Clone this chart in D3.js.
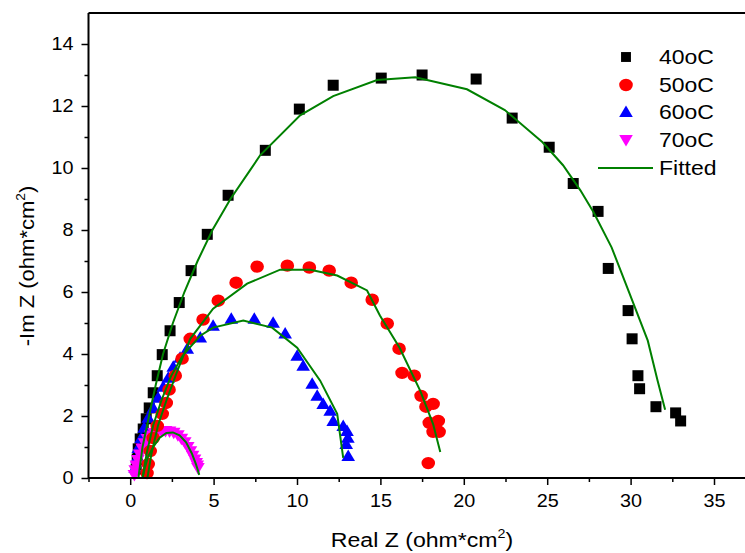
<!DOCTYPE html>
<html>
<head>
<meta charset="utf-8">
<script src="https://cdn.jsdelivr.net/npm/d3@7"></script>
<style>
  html, body { margin: 0; padding: 0; background: #fff; }
  svg { display: block; font-family: "Liberation Sans", Arial, sans-serif; }
</style>
</head>
<body>
<svg id="chart" width="745" height="553"></svg>
<script>
// Nyquist data (Real Z, -Im Z) in ohm*cm^2 at four temperatures
const x40 = [0.36,0.42,0.48,0.60,0.78,0.96,1.14,1.38,1.62,1.92,2.39,2.94,3.65,4.62,5.87,8.10,10.14,12.17,15.05,17.50,20.74,22.90,25.12,26.56,28.05,28.66,29.85,30.09,30.44,30.54,31.52,32.70,33.00];
const y40 = [0.29,0.61,0.94,1.26,1.58,1.91,2.26,2.75,3.3,3.98,4.75,5.66,6.69,7.86,9.12,10.57,11.9,12.67,12.9,13.0,12.87,11.61,10.67,9.5,8.6,6.76,5.4,4.49,3.3,2.88,2.3,2.1,1.84];

const x50 = [1.01,1.08,1.20,1.38,1.62,1.92,2.16,2.33,2.70,3.11,3.60,4.37,5.28,6.35,7.61,9.42,10.74,11.93,13.25,14.51,15.41,16.12,16.30,17.03,17.44,17.73,18.16,17.93,18.47,18.16,18.52,17.87];
const y50 = [0.16,0.45,0.87,1.29,1.68,2.07,2.42,2.85,3.30,3.85,4.49,5.11,5.72,6.30,6.82,6.85,6.79,6.69,6.30,5.75,4.98,4.17,3.39,3.30,2.65,2.30,2.39,1.78,1.84,1.49,1.49,0.48];

const x60 = [0.30,0.42,0.48,0.66,0.84,1.08,1.38,1.67,1.98,2.28,2.58,2.99,3.42,4.20,4.97,6.06,7.44,8.57,9.29,10.01,10.37,10.91,11.21,11.57,11.99,12.17,12.77,13.0,13.05,12.95,13.07];
const y60 = [0.32,0.65,0.97,1.29,1.62,1.94,2.26,2.59,2.94,3.23,3.59,3.88,4.17,4.53,4.91,5.14,5.14,5.01,4.66,3.94,3.62,3.04,2.65,2.39,2.17,1.84,1.68,1.52,1.3,1.1,0.71];

const x70 = [0.25,0.30,0.37,0.46,0.57,0.71,0.87,1.03,1.23,1.43,1.65,1.87,2.12,2.36,2.61,2.86,3.07,3.27,3.45,3.61,3.74,3.86,3.96,4.02,4.06];
const y70 = [0.1,0.25,0.4,0.58,0.76,0.95,1.12,1.26,1.37,1.45,1.5,1.52,1.52,1.5,1.46,1.38,1.27,1.15,1.0,0.86,0.72,0.6,0.48,0.4,0.32];

// Equivalent-circuit fitted curves
const fx40 = [0.49,0.74,1.13,1.53,1.97,2.56,3.25,4.04,4.93,6.01,7.19,7.79,10.19,12.17,14.80,17.09,20.19,22.46,24.72,25.95,26.99,27.78,28.86,29.94,31.03,31.62,32.07];
const fy40 = [0,1,2,3,4,5,6,7,8,9,9.93,10.41,11.7,12.32,12.84,12.93,12.54,11.87,10.83,10.09,9.28,8.57,7.44,5.95,4.43,3.14,2.2];
const fx50 = [1.03,1.28,1.67,2.17,2.86,3.60,4.97,7.01,8.99,10.80,12.41,14.20,14.97,16.15,17.39,18.16,18.59];
const fy50 = [0,0.8,1.7,2.5,3.5,4.49,5.46,6.27,6.72,6.72,6.53,6.05,5.24,4.2,2.81,1.74,0.84];
const fx60 = [0.74,0.99,1.38,1.87,2.46,3.15,4.20,4.97,6.78,8.51,10.01,11.39,12.41,12.77];
const fy60 = [0,0.8,1.7,2.5,3.3,3.95,4.59,4.85,5.08,4.85,4.2,3.14,2.07,0.65];
const fx70 = [0.74,0.89,1.08,1.38,1.77,2.17,2.56,2.96,3.35,3.69,3.94,4.14];
const fy70 = [0,0.35,0.7,1.0,1.3,1.45,1.47,1.38,1.15,0.8,0.45,0.1];

const seriesNames = ["40oC", "50oC", "60oC", "70oC"];
const fitName = "Fitted";
const xTicks = [0,5,10,15,20,25,30,35];
const yTicks = [0,2,4,6,8,10,12,14];

const svg = d3.select("#chart");
const x = d3.scaleLinear().domain([-2.5, 37.5]).range([88.5, 755.7]);
const y = d3.scaleLinear().domain([0, 15]).range([478, 13]);
const STRETCH = 1.1;   // slightly wide lettering

const zip = (xs, ys) => xs.map((v, i) => [v, ys[i]]);

const series = [
  { name: seriesNames[0], pts: zip(x40, y40), color: "#000000", shape: "square" },
  { name: seriesNames[1], pts: zip(x50, y50), color: "#ff0000", shape: "circle" },
  { name: seriesNames[2], pts: zip(x60, y60), color: "#0000ff", shape: "up" },
  { name: seriesNames[3], pts: zip(x70, y70), color: "#ff00ff", shape: "down" }
];
const fits = [zip(fx40, fy40), zip(fx50, fy50), zip(fx60, fy60), zip(fx70, fy70)];

function markerPath(shape) {
  if (shape === "square") return "M-5.5,-5.5H5.5V5.5H-5.5Z";
  if (shape === "circle") return "M-6.8,0A6.8,6.2 0 1,0 6.8,0A6.8,6.2 0 1,0 -6.8,0Z";
  if (shape === "up") return "M0,-6.5L6.8,5L-6.8,5Z";
  return "M0,6.5L6.8,-5L-6.8,-5Z";
}

// markers: black, blue, magenta, red (drawing order)
const drawOrder = [0, 2, 3, 1];
const markerLayer = svg.append("g");
drawOrder.forEach(i => {
  const s = series[i];
  markerLayer.append("g").selectAll("path").data(s.pts).join("path")
    .attr("d", markerPath(s.shape))
    .attr("transform", d => `translate(${x(d[0])},${y(d[1])})`)
    .attr("fill", s.color);
});

// fitted lines on top
const line = d3.line().x(d => x(d[0])).y(d => y(d[1]));
svg.append("g").selectAll("path").data(fits).join("path")
  .attr("d", line)
  .attr("fill", "none")
  .attr("stroke", "#008000")
  .attr("stroke-width", 2);

// axes
const xAxis = d3.axisBottom(x).tickValues(xTicks).tickSize(7).tickPadding(9).tickFormat(d3.format("d"));
const xMinor = d3.axisBottom(x).tickValues(d3.range(-2.5, 37.6, 2.5).filter(v => !xTicks.includes(v))).tickSize(4).tickFormat("");
const yAxis = d3.axisLeft(y).tickValues(yTicks).tickSize(7).tickPadding(8).tickFormat(d3.format("d"));
const yMinor = d3.axisLeft(y).tickValues(d3.range(1, 15, 2)).tickSize(4).tickFormat("");

function styleAxis(g) {
  g.select(".domain").remove();
  g.selectAll(".tick line").attr("stroke", "#000").attr("stroke-width", 1.5);
  g.selectAll("text").attr("fill", "#000").attr("font-size", 18)
    .attr("font-family", "Liberation Sans, Arial, sans-serif");
}

svg.append("g").attr("transform", "translate(0,478)").call(xMinor).call(styleAxis);
svg.append("g").attr("transform", "translate(0,478)").call(xAxis).call(styleAxis)
  .selectAll(".tick text").attr("transform", `scale(${STRETCH},1)`);
svg.append("g").attr("transform", "translate(88.5,0)").call(yMinor).call(styleAxis);
svg.append("g").attr("transform", "translate(88.5,0)").call(yAxis).call(styleAxis)
  .selectAll(".tick text").attr("x", -15 / STRETCH).attr("transform", `scale(${STRETCH},1)`);

// frame lines
svg.append("line").attr("x1", 88.5).attr("x2", 745).attr("y1", 478).attr("y2", 478).attr("stroke", "#000").attr("stroke-width", 2);
svg.append("line").attr("x1", 88.5).attr("x2", 745).attr("y1", 13).attr("y2", 13).attr("stroke", "#000").attr("stroke-width", 2);
svg.append("line").attr("x1", 88.5).attr("x2", 88.5).attr("y1", 13).attr("y2", 478).attr("stroke", "#000").attr("stroke-width", 2);

// axis titles
function title(transform, label) {
  const t = svg.append("text").attr("transform", transform).attr("text-anchor", "middle")
    .attr("font-size", 21).attr("fill", "#000");
  t.append("tspan").text(label);
  t.append("tspan").text("2").attr("font-size", 13).attr("dy", -9);
  t.append("tspan").text(")").attr("dy", 9);
}
title(`translate(422,547) scale(${STRETCH},1)`, "Real Z (ohm*cm");
title("translate(34,266) rotate(-90) scale(1.05,1)", "-Im Z (ohm*cm");

// legend
const legendY = [57, 85, 112, 140, 168];
const legend = svg.append("g");
const legendText = (yy, label) => legend.append("text")
  .attr("transform", `translate(659,${yy + 7}) scale(1.15,1)`)
  .attr("font-size", 20).attr("fill", "#000").text(label);
series.forEach((s, i) => {
  legend.append("path").attr("d", markerPath(s.shape))
    .attr("transform", `translate(626,${legendY[i]})${s.shape === "square" ? " scale(0.9)" : ""}`)
    .attr("fill", s.color);
  legendText(legendY[i], s.name);
});
legend.append("line").attr("x1", 598).attr("x2", 653).attr("y1", legendY[4]).attr("y2", legendY[4])
  .attr("stroke", "#008000").attr("stroke-width", 2);
legendText(legendY[4], fitName);
</script>
</body>
</html>
